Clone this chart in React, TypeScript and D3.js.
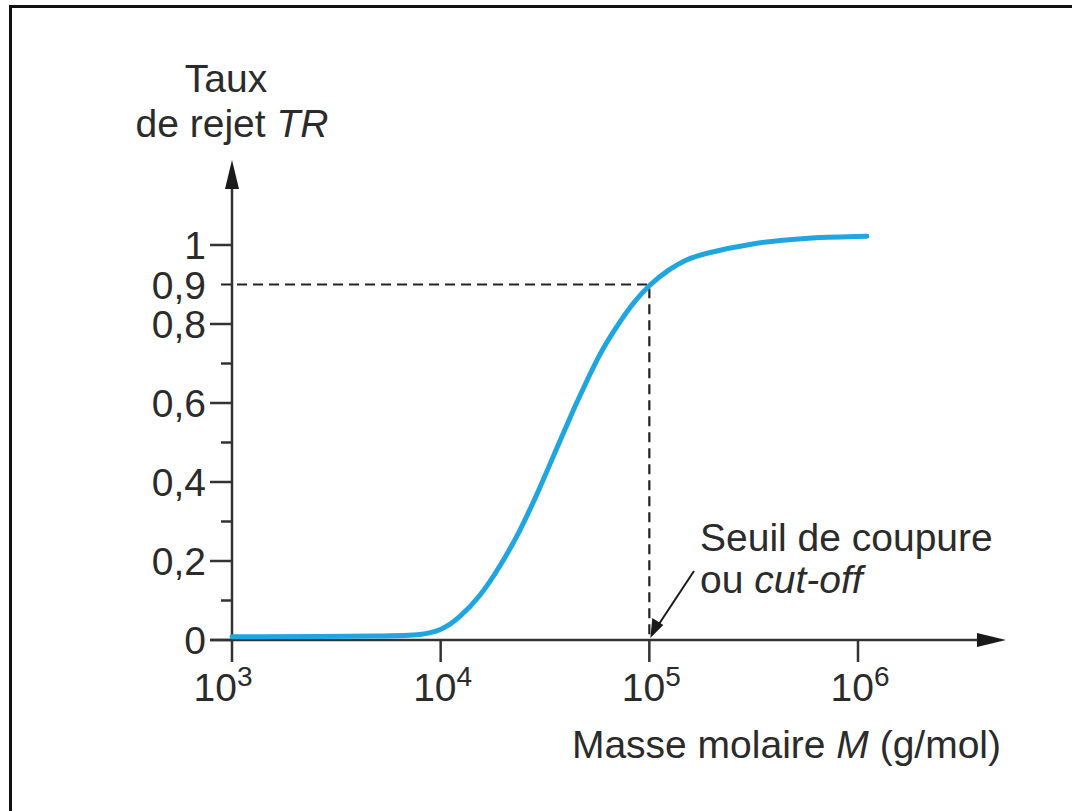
import React from "react";
import * as d3 from "d3";

// courbe (masse molaire en g/mol, taux de rejet)
const masses = [1000, 6400, 7900, 10000, 12400, 15400, 19200, 24000, 29900, 36100, 43000, 48100, 58000, 70000, 83400, 100000, 125600, 148000, 180700, 313000, 544000, 1104000];
const rejets = [0.008, 0.01, 0.013, 0.022, 0.058, 0.109, 0.185, 0.275, 0.385, 0.487, 0.58, 0.635, 0.727, 0.795, 0.853, 0.9, 0.94, 0.962, 0.978, 1.005, 1.018, 1.022];

const yMajor = [0, 0.2, 0.4, 0.6, 0.8, 1];
const yMinor = [0.1, 0.3, 0.5, 0.7];
const yLabelValues = [0, 0.2, 0.4, 0.6, 0.8, 0.9, 1];
const yLabels = ["0", "0,2", "0,4", "0,6", "0,8", "0,9", "1"];
const xTicks = [1e3, 1e4, 1e5, 1e6];
const xExponents = ["3", "4", "5", "6"];

const cutoffMass = 1e5;
const cutoffRate = 0.9;

const FONT = "'Liberation Sans', Arial, Helvetica, sans-serif";
const INK = "#2b2b2b";
const FS = "39px";

export default class App extends React.Component {
  protected svgRef = React.createRef<SVGSVGElement>();

  componentDidMount() {
    this.buildChart();
  }

  componentDidUpdate() {
    this.buildChart();
  }

  buildChart() {
    const width = 1072;
    const height = 811;
    const svg = d3.select(this.svgRef.current);
    svg.selectAll("*").remove();

    const x = d3.scaleLog().domain([1e3, 1e6]).range([232, 858]);
    const y = d3.scaleLinear().domain([0, 1]).range([640, 245]);
    const x0 = x(1e3);
    const y0 = y(0);

    svg.append("rect").attr("width", width).attr("height", height).attr("fill", "#fff");
    // cadre (coupé à droite et en bas)
    svg.append("path")
      .attr("d", `M10.5,${height + 5} L10.5,6.5 L${width + 5},6.5`)
      .attr("fill", "none")
      .attr("stroke", "#111")
      .attr("stroke-width", 3);

    const g = svg.append("g");

    // pointillés du seuil de coupure
    g.append("path")
      .attr("d", `M${x0 - 11},${y(cutoffRate)} H${x(cutoffMass)} V${y0}`)
      .attr("fill", "none")
      .attr("stroke", "#222")
      .attr("stroke-width", 2.2)
      .attr("stroke-dasharray", "10,6");

    // axes avec flèches
    g.append("line")
      .attr("x1", x0).attr("y1", y0 + 22).attr("x2", x0).attr("y2", 180)
      .attr("stroke", "#333").attr("stroke-width", 2.5);
    g.append("path")
      .attr("d", `M${x0},160 L${x0 - 7},189 L${x0 + 7},189 Z`)
      .attr("fill", "#1a1a1a");
    g.append("line")
      .attr("x1", x0 - 22).attr("y1", y0).attr("x2", 985).attr("y2", y0)
      .attr("stroke", "#333").attr("stroke-width", 2.5);
    g.append("path")
      .attr("d", `M1006,${y0} L977,${y0 - 7} L977,${y0 + 7} Z`)
      .attr("fill", "#1a1a1a");

    // graduations
    g.selectAll("line.major")
      .data(yMajor)
      .join("line")
      .attr("class", "major")
      .attr("x1", x0 - 22).attr("x2", x0)
      .attr("y1", d => y(d)).attr("y2", d => y(d))
      .attr("stroke", "#333").attr("stroke-width", 2.5);
    g.selectAll("line.minor")
      .data(yMinor)
      .join("line")
      .attr("class", "minor")
      .attr("x1", x0 - 11).attr("x2", x0)
      .attr("y1", d => y(d)).attr("y2", d => y(d))
      .attr("stroke", "#333").attr("stroke-width", 2.5);
    g.selectAll("line.xtick")
      .data(xTicks.slice(1))
      .join("line")
      .attr("class", "xtick")
      .attr("x1", d => x(d)).attr("x2", d => x(d))
      .attr("y1", y0).attr("y2", y0 + 22)
      .attr("stroke", "#333").attr("stroke-width", 2.5);

    g.selectAll("text.ylab")
      .data(yLabelValues)
      .join("text")
      .attr("class", "ylab")
      .attr("x", x0 - 26)
      .attr("y", d => y(d) + 14)
      .attr("text-anchor", "end")
      .style("font-family", FONT)
      .style("font-size", FS)
      .attr("fill", INK)
      .text((d, i) => yLabels[i]);

    const xlab = g.selectAll("text.xlab")
      .data(xTicks)
      .join("text")
      .attr("class", "xlab")
      .attr("x", (d, i) => x(d) + (i === 0 ? -9 : 2))
      .attr("y", 701)
      .attr("text-anchor", "middle")
      .style("font-family", FONT)
      .style("font-size", FS)
      .attr("fill", INK);
    xlab.append("tspan").text("10");
    xlab.append("tspan")
      .attr("dy", -15)
      .style("font-size", "28px")
      .text((d, i) => xExponents[i]);

    // courbe
    const line = d3.line<number>()
      .x((d, i) => x(masses[i]))
      .y(d => y(d))
      .curve(d3.curveBasis);
    g.append("path")
      .attr("d", line(rejets) as string)
      .attr("fill", "none")
      .attr("stroke", "#1fa6e0")
      .attr("stroke-width", 5)
      .attr("stroke-linecap", "round");

    // titres
    const title = g.append("g")
      .style("font-family", FONT)
      .style("font-size", FS)
      .attr("fill", INK);
    title.append("text").attr("x", 226).attr("y", 92).attr("text-anchor", "middle").text("Taux");
    const t2 = title.append("text").attr("x", 232).attr("y", 137).attr("text-anchor", "middle");
    t2.append("tspan").text("de rejet ");
    t2.append("tspan").style("font-style", "italic").text("TR");

    const xt = title.append("text").attr("x", 1001).attr("y", 758).attr("text-anchor", "end");
    xt.append("tspan").text("Masse molaire ");
    xt.append("tspan").style("font-style", "italic").text("M");
    xt.append("tspan").text(" (g/mol)");

    title.append("text").attr("x", 700).attr("y", 551).text("Seuil de coupure");
    const t4 = title.append("text").attr("x", 700).attr("y", 593);
    t4.append("tspan").text("ou ");
    t4.append("tspan").style("font-style", "italic").text("cut-off");

    // flèche d'annotation
    const tipX = x(cutoffMass) + 1;
    const tipY = y0 - 2;
    g.append("line")
      .attr("x1", 694).attr("y1", 571).attr("x2", tipX + 8).attr("y2", tipY - 13)
      .attr("stroke", "#1a1a1a").attr("stroke-width", 2);
    g.append("path")
      .attr("d", `M${tipX},${tipY} L${tipX + 2},${tipY - 20} L${tipX + 13},${tipY - 13} Z`)
      .attr("fill", "#1a1a1a");
  }

  render() {
    return (
      <div style={{ position: "absolute", left: 0, top: 0 }}>
        <svg ref={this.svgRef} width={1072} height={811} style={{ display: "block" }} />
      </div>
    );
  }
}
